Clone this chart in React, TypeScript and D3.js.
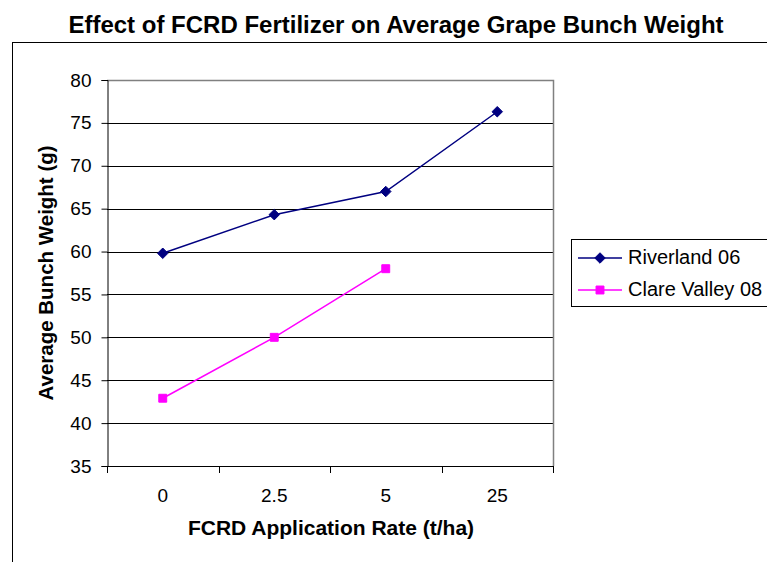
import React, { useEffect, useRef } from 'react';
import * as d3 from 'd3';

const categories = ['0', '2.5', '5', '25'];
const riverland06 = [59.8, 64.3, 67.0, 76.3];
const clareValley08 = [42.9, 50.0, 58.0];
const yTicks = [35, 40, 45, 50, 55, 60, 65, 70, 75, 80];
const seriesNames = ['Riverland 06', 'Clare Valley 08'];

const App: React.FC = () => {
  const svgRef = useRef<SVGSVGElement>(null);

  useEffect(() => {
    if (!svgRef.current) return;
    const width = 767;
    const height = 562;
    const plot = { left: 107, right: 553, top: 80, bottom: 466 };
    const font = "'Liberation Sans', Arial, sans-serif";

    const svg = d3.select(svgRef.current);
    svg.selectAll('*').remove();

    svg.append('rect').attr('width', width).attr('height', height).attr('fill', '#fff');

    // outer chart frame (runs off the right/bottom edges)
    svg.append('rect')
      .attr('x', 12.5).attr('y', 42.5)
      .attr('width', width).attr('height', height)
      .attr('fill', 'none').attr('stroke', '#000').attr('stroke-width', 1);

    // title
    svg.append('text')
      .attr('x', 396).attr('y', 33)
      .attr('text-anchor', 'middle')
      .attr('font-family', font).attr('font-weight', 'bold').attr('font-size', 24)
      .text('Effect of FCRD Fertilizer on Average Grape Bunch Weight');

    const x = d3.scaleBand<string>()
      .domain(categories)
      .range([plot.left, plot.right]);

    const y = d3.scaleLinear()
      .domain([35, 80])
      .range([plot.bottom, plot.top]);

    const g = svg.append('g');

    // gridlines
    g.selectAll('.grid')
      .data(yTicks.filter(t => t !== 35 && t !== 80))
      .join('line')
      .attr('x1', plot.left).attr('x2', plot.right)
      .attr('y1', d => Math.round(y(d)) + 0.5).attr('y2', d => Math.round(y(d)) + 0.5)
      .attr('stroke', '#000').attr('stroke-width', 1);

    // plot area border (top/right gray)
    g.append('path')
      .attr('d', `M${plot.left},${plot.top + 0.5}H${plot.right + 0.5}V${plot.bottom}`)
      .attr('fill', 'none').attr('stroke', '#808080').attr('stroke-width', 1.5);

    // y axis
    const yAxis = g.append('g')
      .attr('transform', `translate(${plot.left + 0.5},0)`)
      .call(d3.axisLeft(y).tickValues(yTicks).tickSize(6).tickPadding(10));
    yAxis.select('.domain').attr('stroke', '#000');
    yAxis.selectAll('line').attr('stroke', '#000');
    yAxis.selectAll('text')
      .attr('fill', '#000').attr('font-family', font).attr('font-size', 19);

    // x axis
    const xAxis = g.append('g')
      .attr('transform', `translate(0,${plot.bottom + 0.5})`)
      .call(d3.axisBottom(x).tickSize(0).tickPadding(22));
    xAxis.select('.domain').attr('stroke', '#000').attr('d', `M${plot.left},0H${plot.right + 0.5}`);
    xAxis.selectAll('text')
      .attr('fill', '#000').attr('font-family', font).attr('font-size', 19);

    // x tick marks between categories
    const edges = categories.map(c => x(c) as number).concat([plot.right]);
    g.selectAll('.xtick')
      .data(edges)
      .join('line')
      .attr('x1', d => Math.round(d) + 0.5).attr('x2', d => Math.round(d) + 0.5)
      .attr('y1', plot.bottom).attr('y2', plot.bottom + 7)
      .attr('stroke', '#000');

    const cx = (c: string) => (x(c) as number) + x.bandwidth() / 2;

    const line = d3.line<number>()
      .x((_, i) => cx(categories[i]))
      .y(d => y(d));

    const diamond = d3.symbol().type(d3.symbolDiamond2).size(70);
    const square = d3.symbol().type(d3.symbolSquare2).size(80);

    // Riverland 06
    g.append('path')
      .datum(riverland06)
      .attr('fill', 'none').attr('stroke', '#000080').attr('stroke-width', 1.5)
      .attr('d', line);
    g.selectAll('.rv')
      .data(riverland06)
      .join('path')
      .attr('transform', (d, i) => `translate(${cx(categories[i])},${y(d)})`)
      .attr('d', diamond)
      .attr('fill', '#000080').attr('stroke', '#000080');

    // Clare Valley 08
    g.append('path')
      .datum(clareValley08)
      .attr('fill', 'none').attr('stroke', '#ff00ff').attr('stroke-width', 1.5)
      .attr('d', line);
    g.selectAll('.cv')
      .data(clareValley08)
      .join('path')
      .attr('transform', (d, i) => `translate(${cx(categories[i])},${y(d)})`)
      .attr('d', square)
      .attr('fill', '#ff00ff').attr('stroke', '#ff00ff');

    // axis titles
    svg.append('text')
      .attr('transform', `translate(53,${(plot.top + plot.bottom) / 2}) rotate(-90)`)
      .attr('text-anchor', 'middle')
      .attr('font-family', font).attr('font-weight', 'bold').attr('font-size', 20.5)
      .text('Average Bunch Weight (g)');
    svg.append('text')
      .attr('x', 331).attr('y', 535)
      .attr('text-anchor', 'middle')
      .attr('font-family', font).attr('font-weight', 'bold').attr('font-size', 21)
      .text('FCRD Application Rate (t/ha)');

    // legend
    const legend = svg.append('g').attr('transform', 'translate(571,239)');
    legend.append('rect')
      .attr('x', 0.5).attr('y', 0.5).attr('width', 300).attr('height', 67)
      .attr('fill', '#fff').attr('stroke', '#000');
    const colors = ['#000080', '#ff00ff'];
    const symbols = [diamond, square];
    seriesNames.forEach((name, i) => {
      const ly = 19 + i * 32;
      legend.append('line')
        .attr('x1', 7).attr('x2', 51).attr('y1', ly).attr('y2', ly)
        .attr('stroke', colors[i]).attr('stroke-width', 1.5);
      legend.append('path')
        .attr('transform', `translate(29,${ly})`)
        .attr('d', symbols[i])
        .attr('fill', colors[i]).attr('stroke', colors[i]);
      legend.append('text')
        .attr('x', 57).attr('y', ly + 6)
        .attr('font-family', font).attr('font-size', 20)
        .text(name);
    });
  }, []);

  return (
    <div style={{ position: 'fixed', left: 0, top: 0, width: 767, height: 562, overflow: 'hidden' }}>
      <svg ref={svgRef} width={767} height={562}></svg>
    </div>
  );
};

export default App;
